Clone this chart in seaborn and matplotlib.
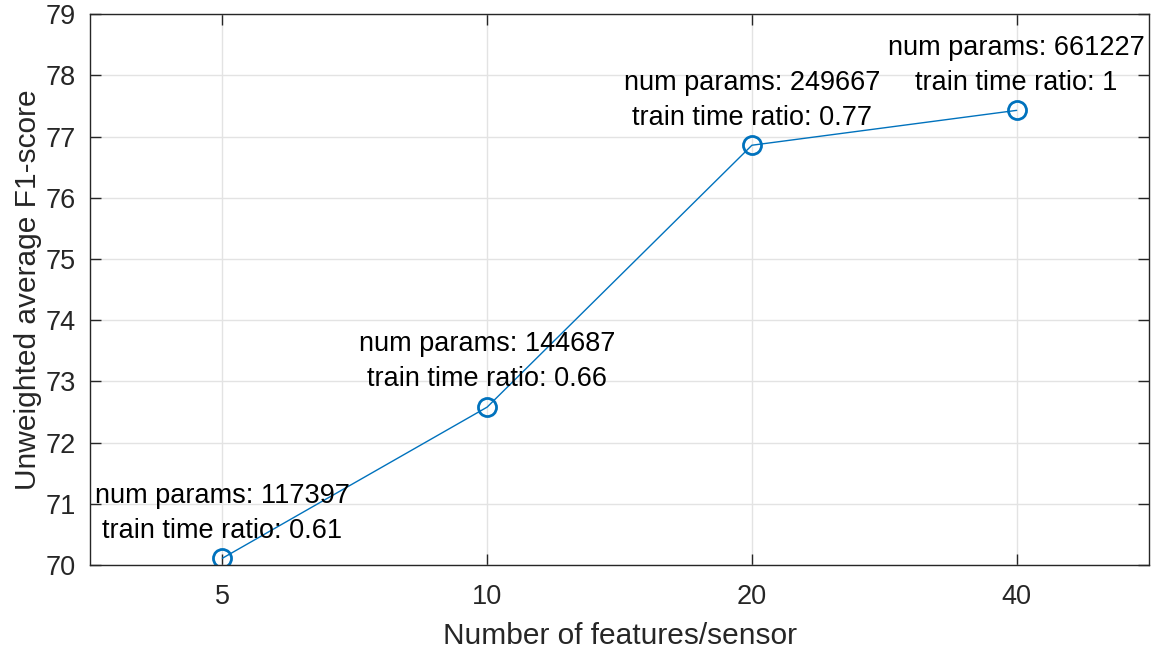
import matplotlib
matplotlib.use("Agg")
import matplotlib.pyplot as plt
import seaborn as sns
import pandas as pd

features = ["5", "10", "20", "40"]
f1_scores = [70.11, 72.58, 76.86, 77.43]
num_params = [117397, 144687, 249667, 661227]
time_ratios = ["0.61", "0.66", "0.77", "1"]
y_ticks = [70, 71, 72, 73, 74, 75, 76, 77, 78, 79]

sns.set_theme(style="white")
plt.rcParams['font.family'] = ['Liberation Sans', 'DejaVu Sans']

df = pd.DataFrame({"features": features, "f1": f1_scores})

fig = plt.figure(figsize=(11.54, 6.5), dpi=100)
ax = fig.add_axes([0.078, 0.1308, 0.9957 - 0.078, 0.978 - 0.1308])

blue = "#0072BD"
sns.lineplot(data=df, x="features", y="f1", ax=ax, color=blue, linewidth=1.0,
             marker="o", markersize=13, markerfacecolor="none",
             markeredgecolor=blue, markeredgewidth=2.0, sort=False)

for i, (f, y, p, r) in enumerate(zip(features, f1_scores, num_params, time_ratios)):
    ax.annotate(f"num params: {p}\ntrain time ratio: {r}", xy=(i, y),
                xytext=(0, 32.5), textcoords="offset points",
                ha="center", va="center", fontsize=19.5, color="black",
                linespacing=1.45)

ax.set_xlim(-0.5, 3.5)
ax.set_ylim(70, 79)
ax.set_yticks(y_ticks)
ax.set_xticks(range(len(features)))
ax.set_xticklabels(features)

ax.grid(True, color="#e3e3e3", linewidth=1.0)
ax.set_axisbelow(True)
for s in ax.spines.values():
    s.set_color("#262626")
    s.set_linewidth(1.0)
    s.set_visible(True)

ax.tick_params(axis="both", which="both", direction="in", length=8, width=1.0,
               colors="#262626", labelsize=19.5, top=True, right=True,
               bottom=True, left=True)
ax.tick_params(axis="x", pad=14)
ax.tick_params(axis="y", pad=10)

ax.set_xlabel("Number of features/sensor", fontsize=21.5, color="#262626", labelpad=8)
ax.set_ylabel("Unweighted average F1-score", fontsize=21.5, color="#262626", labelpad=3)

fig.savefig("out.png", dpi=100)
